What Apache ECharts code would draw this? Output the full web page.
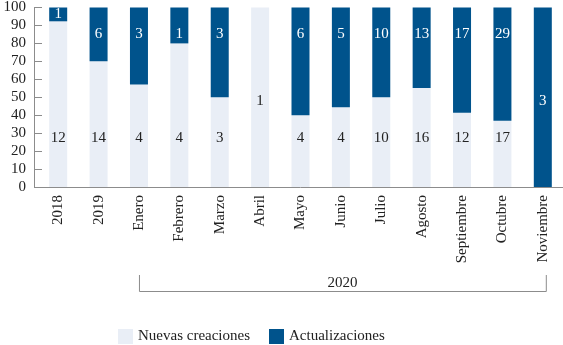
<!DOCTYPE html>
<html>
<head>
<meta charset="utf-8">
<script src="https://cdn.jsdelivr.net/npm/echarts@6/dist/echarts.min.js"></script>
<style>
  html, body { margin: 0; padding: 0; background: #fff; }
  #chart { width: 563px; height: 345px; }
</style>
</head>
<body>
<div id="chart"></div>
<script>
const categories = ["2018", "2019", "Enero", "Febrero", "Marzo", "Abril", "Mayo",
  "Junio", "Julio", "Agosto", "Septiembre", "Octubre", "Noviembre"];
const nuevas = [12, 14, 4, 4, 3, 1, 4, 4, 10, 16, 12, 17, 0];
const actualizaciones = [1, 6, 3, 1, 3, 0, 6, 5, 10, 13, 17, 29, 3];
const yTicks = [0, 10, 20, 30, 40, 50, 60, 70, 80, 90, 100];
const groupLabel = "2020";

const LIGHT = "#E9EEF6";
const DARK = "#00538C";
const AXIS = "#8C8C8C";
const TEXT = "#222222";
const FONT = "Liberation Serif";

const share = (part, i) => {
  const total = nuevas[i] + actualizaciones[i];
  return total ? (part / total) * 100 : 0;
};

// label placement: near the base for light bars, near the top for dark bars
const lightData = nuevas.map((v, i) => {
  let label = { position: "insideBottom", distance: 41 };
  if (v === 0) label = { show: false };
  else if (actualizaciones[i] === 0) label = { position: "inside", offset: [0, 4] };
  return { value: share(v, i), count: v, label };
});

const darkData = actualizaciones.map((v, i) => {
  let label = { position: "insideTop", distance: 19 };
  if (v === 0) label = { show: false };
  else if (nuevas[i] === 0) label = { position: "inside", offset: [0, 4] };
  else if (share(v, i) < 15) label = { position: "inside" };
  return { value: share(v, i), count: v, label };
});

const chart = echarts.init(document.getElementById("chart"));

const options = {
  animation: false,
  grid: { left: 38, right: 0, top: 6, bottom: 158 },
  legend: {
    left: 118,
    top: 329,
    padding: 0,
    itemWidth: 15,
    itemHeight: 15,
    itemGap: 19,
    icon: "rect",
    textStyle: { fontFamily: FONT, fontSize: 15, color: TEXT },
    data: ["Nuevas creaciones", "Actualizaciones"],
  },
  xAxis: {
    type: "category",
    data: categories,
    axisLine: { lineStyle: { color: AXIS } },
    axisTick: { show: false },
    axisLabel: {
      rotate: 90,
      margin: 8,
      interval: 0,
      fontFamily: FONT,
      fontSize: 15,
      color: TEXT,
    },
  },
  yAxis: {
    type: "value",
    min: yTicks[0],
    max: yTicks[yTicks.length - 1],
    interval: yTicks[1] - yTicks[0],
    offset: 4,
    axisLine: { show: true, lineStyle: { color: AXIS } },
    axisTick: { show: true, inside: true, length: 8, lineStyle: { color: AXIS } },
    splitLine: { show: false },
    axisLabel: { margin: 8, fontFamily: FONT, fontSize: 15, color: TEXT },
  },
  series: [
    {
      name: "Nuevas creaciones",
      type: "bar",
      stack: "total",
      barWidth: 18,
      itemStyle: { color: LIGHT },
      label: {
        show: true,
        fontFamily: FONT,
        fontSize: 15,
        color: TEXT,
        formatter: (p) => p.data.count,
      },
      data: lightData,
    },
    {
      name: "Actualizaciones",
      type: "bar",
      stack: "total",
      barWidth: 18,
      itemStyle: { color: DARK },
      label: {
        show: true,
        fontFamily: FONT,
        fontSize: 15,
        color: "#ffffff",
        formatter: (p) => p.data.count,
      },
      data: darkData,
    },
  ],
};

chart.setOption(options);

// bracket under the months of 2020 and the small corner stub of the x axis
const first = chart.convertToPixel({ xAxisIndex: 0 }, categories[2]);
const last = chart.convertToPixel({ xAxisIndex: 0 }, categories[categories.length - 1]) + 3;
const base = chart.convertToPixel({ yAxisIndex: 0 }, 0);

chart.setOption({
  graphic: [
    {
      type: "line",
      shape: { x1: 34, y1: base + 0.5, x2: 38, y2: base + 0.5 },
      style: { stroke: AXIS, lineWidth: 1 },
    },
    {
      type: "polyline",
      shape: {
        points: [
          [first + 0.5, 275],
          [first + 0.5, 291.5],
          [last + 0.5, 291.5],
          [last + 0.5, 275],
        ],
      },
      style: { stroke: AXIS, lineWidth: 1, fill: null },
    },
    {
      type: "text",
      x: (first + last) / 2,
      y: 283,
      style: {
        text: groupLabel,
        fontFamily: FONT,
        fontSize: 15,
        fill: TEXT,
        align: "center",
        verticalAlign: "middle",
      },
    },
  ],
});
</script>
</body>
</html>
